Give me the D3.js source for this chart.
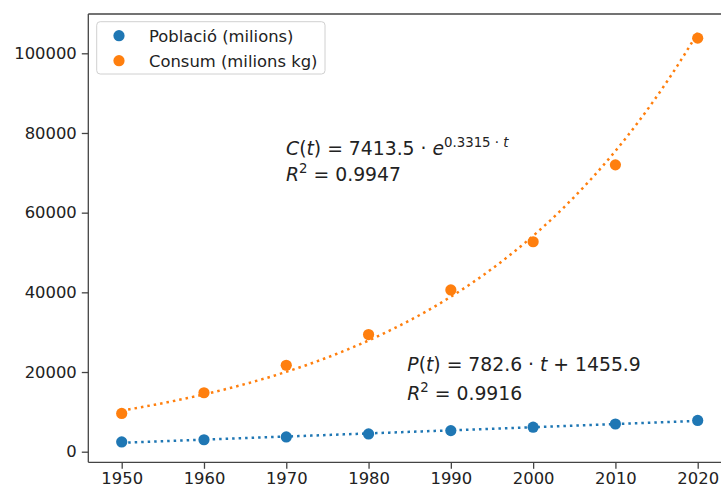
<!DOCTYPE html>
<html>
<head>
<meta charset="utf-8">
<script src="https://cdn.jsdelivr.net/npm/d3@7"></script>
<style>
  html, body { margin: 0; padding: 0; background: #fff; }
  svg { display: block; font-family: "DejaVu Sans", sans-serif; }
</style>
</head>
<body>
<svg id="chart" width="721" height="488"></svg>
<script>
// Decades on the x axis and the two observed series
const years = [1950, 1960, 1970, 1980, 1990, 2000, 2010, 2020];
const poblacio = [2450, 3000, 3700, 4450, 5300, 6150, 6950, 7850];
const consum = [9600, 14800, 21700, 29400, 40600, 52700, 72000, 103800];

// Tick values
const xTicks = [1950, 1960, 1970, 1980, 1990, 2000, 2010, 2020];
const yTicks = [0, 20000, 40000, 60000, 80000, 100000];

// Series labels
const seriesNames = ["Població (milions)", "Consum (milions kg)"];
const seriesColors = ["#1f77b4", "#ff7f0e"];

// Fitted models (t = 1 for 1950, 2 for 1960, ...)
const linFit = { a: 782.6, b: 1455.9 };
const expFit = { a: 7413.5, k: 0.3315 };
const expR2 = 0.9947;
const linR2 = 0.9916;

const svg = d3.select("#chart");

const plot = { left: 88.3, right: 731, top: 14, bottom: 462.3 };

const x = d3.scaleLinear().domain([1950, 2020]).range([121.7, 697.7]);
const y = d3.scaleLinear().domain([0, 100000]).range([451.7, 53.3]);

const xMin = x.invert(plot.left), xMax = x.invert(plot.right);
const yMin = y.invert(plot.bottom), yMax = y.invert(plot.top);
const xs = x.copy().domain([xMin, xMax]).range([plot.left, plot.right]);
const ys = y.copy().domain([yMin, yMax]).range([plot.bottom, plot.top]);

const fontSize = 16.4;
const textColor = "#222";
const spineColor = "#444";

// Fit curves, sampled along t
const tToYear = t => 1940 + 10 * t;
const tSamples = d3.range(0, 141).map(i => 1 + i * 7 / 140);
const lineGen = d3.line().x(d => xs(d[0])).y(d => ys(d[1]));

const linCurve = tSamples.map(t => [tToYear(t), linFit.a * t + linFit.b]);
const expCurve = tSamples.map(t => [tToYear(t), expFit.a * Math.exp(expFit.k * t)]);

const g = svg.append("g");

g.append("path")
  .attr("d", lineGen(linCurve))
  .attr("fill", "none")
  .attr("stroke", seriesColors[0])
  .attr("stroke-width", 2.5)
  .attr("stroke-dasharray", "2.5,4");

g.append("path")
  .attr("d", lineGen(expCurve))
  .attr("fill", "none")
  .attr("stroke", seriesColors[1])
  .attr("stroke-width", 2.5)
  .attr("stroke-dasharray", "2.5,4");

// Scatter points
[poblacio, consum].forEach((vals, si) => {
  g.selectAll(null)
    .data(vals)
    .enter()
    .append("circle")
    .attr("cx", (d, i) => xs(years[i]))
    .attr("cy", d => ys(d))
    .attr("r", 5.6)
    .attr("fill", seriesColors[si]);
});

// Axes
const xAxis = d3.axisBottom(xs).tickValues(xTicks).tickFormat(d3.format("d")).tickSizeOuter(0).tickSize(6.5).tickPadding(3.5);
const yAxis = d3.axisLeft(ys).tickValues(yTicks).tickFormat(d3.format("d")).tickSizeOuter(0).tickSize(6.5).tickPadding(5);

const gx = svg.append("g").attr("transform", `translate(0,${plot.bottom})`).call(xAxis);
const gy = svg.append("g").attr("transform", `translate(${plot.left},0)`).call(yAxis);

[gx, gy].forEach(ax => {
  ax.select(".domain").remove();
  ax.selectAll(".tick line").attr("stroke", spineColor).attr("stroke-width", 1.3);
  ax.selectAll(".tick text")
    .attr("fill", textColor)
    .attr("font-size", fontSize)
    .attr("font-family", "DejaVu Sans, sans-serif");
});
gx.selectAll(".tick text").attr("dy", "0.71em");

// Spines
svg.append("line").attr("x1", plot.left).attr("x2", plot.right).attr("y1", plot.top).attr("y2", plot.top)
  .attr("stroke", spineColor).attr("stroke-width", 1.3);
svg.append("line").attr("x1", plot.left).attr("x2", plot.right).attr("y1", plot.bottom).attr("y2", plot.bottom)
  .attr("stroke", spineColor).attr("stroke-width", 1.3);
svg.append("line").attr("x1", plot.left).attr("x2", plot.left).attr("y1", plot.top).attr("y2", plot.bottom)
  .attr("stroke", spineColor).attr("stroke-width", 1.3);

// Legend
const legend = svg.append("g");
legend.append("rect")
  .attr("x", 96.7).attr("y", 21.7).attr("width", 228.3).attr("height", 52.3)
  .attr("rx", 3.5).attr("fill", "#fff").attr("fill-opacity", 0.8)
  .attr("stroke", "#d0d0d0").attr("stroke-width", 1);
seriesNames.forEach((name, i) => {
  const cy = 35.7 + i * 25;
  legend.append("circle").attr("cx", 119).attr("cy", cy).attr("r", 5.6).attr("fill", seriesColors[i]);
  legend.append("text").attr("x", 149).attr("y", cy + 5.8)
    .attr("font-size", fontSize).attr("fill", textColor).text(name);
});

// Equation annotations
const eqSize = 18.8;
const supSize = 13.3;
function eqText(xp, yp) {
  return svg.append("text").attr("x", xp).attr("y", yp)
    .attr("font-size", eqSize).attr("fill", textColor);
}

const c1 = eqText(286, 155);
c1.append("tspan").attr("font-style", "italic").text("C");
c1.append("tspan").text("(");
c1.append("tspan").attr("font-style", "italic").text("t");
c1.append("tspan").text(") = " + expFit.a.toFixed(1) + " · ");
c1.append("tspan").attr("font-style", "italic").text("e");
c1.append("tspan").attr("font-size", supSize).attr("dy", -8.5).text(expFit.k.toFixed(4) + " · ");
c1.append("tspan").attr("font-size", supSize).attr("font-style", "italic").text("t");

const c2 = eqText(286, 181);
c2.append("tspan").attr("font-style", "italic").text("R");
c2.append("tspan").attr("font-size", supSize).attr("dy", -8.5).text("2");
c2.append("tspan").attr("dy", 8.5).text(" = " + expR2.toFixed(4));

const p1 = eqText(407.3, 371);
p1.append("tspan").attr("font-style", "italic").text("P");
p1.append("tspan").text("(");
p1.append("tspan").attr("font-style", "italic").text("t");
p1.append("tspan").text(") = " + linFit.a.toFixed(1) + " · ");
p1.append("tspan").attr("font-style", "italic").text("t");
p1.append("tspan").text(" + " + linFit.b.toFixed(1));

const p2 = eqText(407.3, 400);
p2.append("tspan").attr("font-style", "italic").text("R");
p2.append("tspan").attr("font-size", supSize).attr("dy", -8.5).text("2");
p2.append("tspan").attr("dy", 8.5).text(" = " + linR2.toFixed(4));
</script>
</body>
</html>
